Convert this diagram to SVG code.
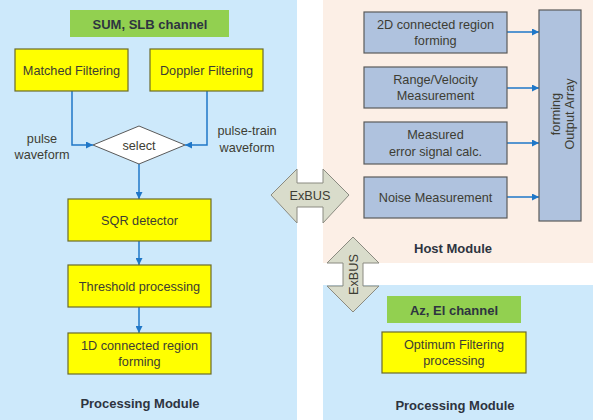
<svg xmlns="http://www.w3.org/2000/svg" width="593" height="420" viewBox="0 0 593 420">
<defs>
<style>
text{font-family:"Liberation Sans",Arial,sans-serif;font-size:12.7px;fill:#3d3d33;text-anchor:middle}
.b{font-weight:bold;font-size:13px;fill:#2e3440}
.y{fill:#ffff00;stroke:#6b6b2a;stroke-width:1.2}
.h{fill:#afc2de;stroke:#5a5a5a;stroke-width:1.2}
.g{fill:#92d050}
.bus{fill:#d9dccb;stroke:#8a8a80;stroke-width:1}
.c{fill:none;stroke:#1f77c8;stroke-width:1.5}
</style>
<marker id="ar" viewBox="0 0 10 10" refX="10" refY="5" markerWidth="7" markerHeight="7" orient="auto" markerUnits="userSpaceOnUse">
<path d="M0,0 L10,5 L0,10 z" fill="#1f77c8"/>
</marker>
</defs>
<rect width="593" height="420" fill="#ffffff"/>
<g id="panels">
<rect x="0" y="0" width="297" height="420" fill="#cde9fb"/>
<rect x="323" y="0" width="270" height="263" fill="#fcefe6"/>
<rect x="323" y="285" width="270" height="135" fill="#cde9fb"/>
</g>
<g id="connectors">
<path class="c" d="M72,91 V145 H93" marker-end="url(#ar)"/>
<path class="c" d="M207,91 V145 H185" marker-end="url(#ar)"/>
<path class="c" d="M139,164 V199" marker-end="url(#ar)"/>
<path class="c" d="M139,241 V265" marker-end="url(#ar)"/>
<path class="c" d="M139,307 V333" marker-end="url(#ar)"/>
<path class="c" d="M507,32 H539" marker-end="url(#ar)"/>
<path class="c" d="M507,88 H539" marker-end="url(#ar)"/>
<path class="c" d="M507,143 H539" marker-end="url(#ar)"/>
<path class="c" d="M507,197 H539" marker-end="url(#ar)"/>
</g>
<g id="sum-slb">
<rect class="g" x="70" y="10" width="159" height="27"/>
<text class="b" x="150" y="28.5">SUM, SLB channel</text>
</g>
<g id="matched">
<rect class="y" x="15" y="49" width="113" height="42"/>
<text x="71.5" y="74.5">Matched Filtering</text>
</g>
<g id="doppler">
<rect class="y" x="150" y="49" width="113" height="42"/>
<text x="206.5" y="74.5">Doppler Filtering</text>
</g>
<g id="select">
<path d="M93,145 L139,126 L185,145 L139,164 z" fill="#ffffff" stroke="#5a5a5a" stroke-width="1"/>
<text x="139" y="149.5">select</text>
</g>
<g id="label-pulse">
<text x="42" y="143">pulse</text>
<text x="42" y="159">waveform</text>
</g>
<g id="label-pulse-train">
<text x="247" y="135">pulse-train</text>
<text x="247" y="151.5">waveform</text>
</g>
<g id="sqr">
<rect class="y" x="68" y="199" width="143" height="42"/>
<text x="139.5" y="224.5">SQR detector</text>
</g>
<g id="threshold">
<rect class="y" x="68" y="265" width="143" height="42"/>
<text x="139.5" y="290.5">Threshold processing</text>
</g>
<g id="region1d">
<rect class="y" x="68" y="333" width="143" height="41"/>
<text x="139.5" y="350">1D connected region</text>
<text x="139.5" y="366">forming</text>
</g>
<g id="pm-left"><text class="b" x="140" y="408">Processing Module</text></g>
<g id="region2d">
<rect class="h" x="364" y="12" width="143" height="41"/>
<text x="435.5" y="29">2D connected region</text>
<text x="435.5" y="45">forming</text>
</g>
<g id="rangevel">
<rect class="h" x="364" y="67" width="143" height="41"/>
<text x="435.5" y="84">Range/Velocity</text>
<text x="435.5" y="100">Measurement</text>
</g>
<g id="errsig">
<rect class="h" x="364" y="122" width="143" height="42"/>
<text x="435.5" y="139">Measured</text>
<text x="435.5" y="155.5">error signal calc.</text>
</g>
<g id="noise">
<rect class="h" x="364" y="177" width="143" height="41"/>
<text x="435.5" y="202">Noise Measurement</text>
</g>
<g id="output">
<rect class="h" x="539" y="10" width="42" height="211"/>
<text transform="translate(559.5,114) rotate(-90)">forming</text>
<text transform="translate(573.5,114) rotate(-90)">Output Array</text>
</g>
<g id="host-label"><text class="b" x="453" y="252.5">Host Module</text></g>
<g id="exbus-h">
<path class="bus" d="M271,195 L297,169 V183 H323 V169 L349,195 L323,223 V207 H297 V223 z"/>
<text x="310" y="199.5">ExBUS</text>
</g>
<g id="exbus-v">
<path class="bus" d="M353,237 L379,263 H363 V286 H379 L353,312 L327,286 H343 V263 H327 z"/>
<text transform="translate(357.5,274.5) rotate(-90)">ExBUS</text>
</g>
<g id="az-el">
<rect class="g" x="387" y="296" width="134" height="27"/>
<text class="b" x="454" y="314.5">Az, El channel</text>
</g>
<g id="optimum">
<rect class="y" x="382" y="332" width="144" height="41"/>
<text x="454" y="349">Optimum Filtering</text>
<text x="454" y="365">processing</text>
</g>
<g id="pm-right"><text class="b" x="455" y="409.5">Processing Module</text></g>
</svg>
